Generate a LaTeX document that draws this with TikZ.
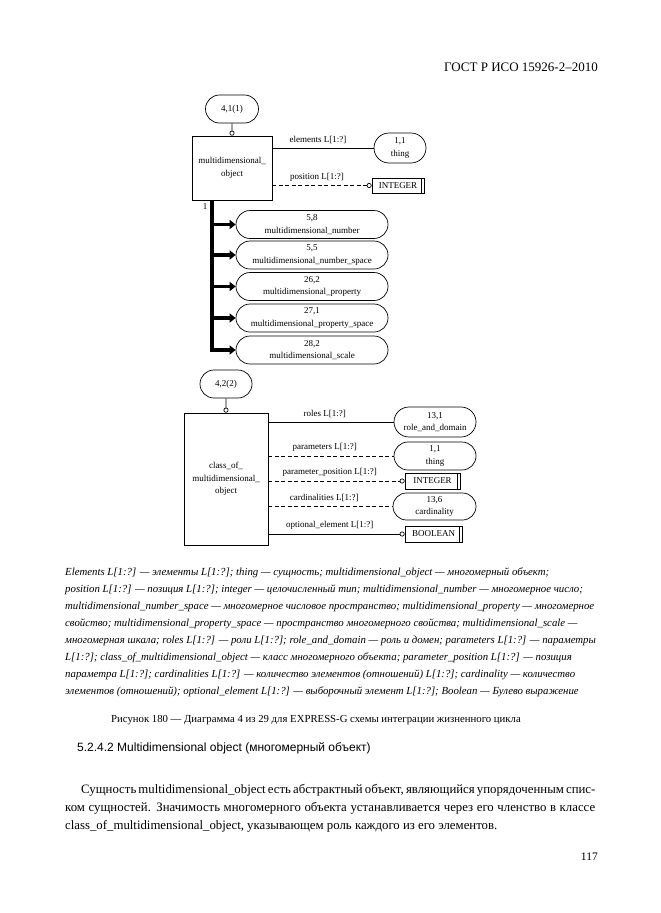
\documentclass[tikz,border=0pt]{standalone}
\usepackage{fontspec}
\setmainfont{Liberation Serif}
\newfontfamily\headfont{Liberation Sans}
\usetikzlibrary{shapes,arrows.meta,positioning}
\newcommand{\dgfont}{\fontsize{9}{12.5}\selectfont}
\newcommand{\hdrfont}{\fontsize{13}{15}\selectfont}
\newcommand{\lgfont}{\fontsize{10.8}{17}\selectfont\itshape}
\newcommand{\capfont}{\fontsize{10.75}{13}\selectfont}
\newcommand{\secfont}{\headfont\fontsize{12}{14}\selectfont}
\newcommand{\txtfont}{\fontsize{12.8}{18}\selectfont}

\begin{document}
\begin{tikzpicture}[x=1pt,y=-1pt]
    %styles
    \tikzstyle{entity}=[rectangle,draw,line width=0.7pt,align=center,font=\dgfont,inner sep=1pt]
    \tikzstyle{refoval}=[rounded rectangle,draw,line width=0.7pt,align=center,font=\dgfont,inner sep=1pt]
    \tikzstyle{typebox}=[rectangle,draw,line width=0.7pt,font=\dgfont,inner sep=1pt,
        path picture={\draw[line width=0.7pt] ([xshift=-3pt]path picture bounding box.north east) -- ([xshift=-3pt]path picture bounding box.south east);}]
    \tikzstyle{attr}=[line width=0.7pt]
    \tikzstyle{optattr}=[line width=0.7pt,dash pattern=on 4pt off 2.5pt]
    \tikzstyle{circtip}=[-{Circle[open,length=5pt]}]
    \tikzstyle{lbl}=[font=\dgfont,above=3pt,pos=0.45,inner sep=1pt]
    \tikzstyle{supline}=[line width=4pt]
    \tikzstyle{subarr}=[line width=3.5pt,-{Triangle[length=6pt,width=9pt]}]
    \tikzstyle{plain}=[anchor=west,inner sep=0pt]
    \useasboundingbox (0,0) rectangle (661,913);

    %page head
    \node[anchor=east,inner sep=0pt,font=\hdrfont] (hdr) at (598,67) {ГОСТ Р ИСО 15926-2–2010};

    %diagram 4, part 1
    \node[refoval,minimum width=55,minimum height=28] (ref41) at (232,109) {4,1(1)};
    \node[entity,minimum width=80,minimum height=64] (mdo) at (232,168) {multidimensional\_\\object};
    \node[refoval,minimum width=54,minimum height=30] (thing1) at (400,148) {1,1\\thing};
    \node[typebox,minimum width=52,minimum height=15] (int1) at (398,185.5) {INTEGER};
    \node[font=\dgfont,inner sep=0pt] (one) at (205,207) {1};
    \node[refoval,minimum width=154,minimum height=28] (num) at (312,224.5) {5,8\\multidimensional\_number};
    \node[refoval,minimum width=154,minimum height=28] (numsp) at (312,255) {5,5\\multidimensional\_number\_space};
    \node[refoval,minimum width=154,minimum height=28] (prop) at (312,286.5) {26,2\\multidimensional\_property};
    \node[refoval,minimum width=154,minimum height=28] (propsp) at (312,318) {27,1\\multidimensional\_property\_space};
    \node[refoval,minimum width=154,minimum height=28] (scale) at (312,350) {28,2\\multidimensional\_scale};
    \coordinate (trunk) at (212,352);

    %diagram 4, part 2
    \node[refoval,minimum width=54,minimum height=28] (ref42) at (226,384) {4,2(2)};
    \node[entity,minimum width=84,minimum height=132] (cmo) at (226,479) {class\_of\_\\multidimensional\_\\object};
    \node[refoval,minimum width=84,minimum height=30] (rad) at (435,422) {13,1\\role\_and\_domain};
    \node[refoval,minimum width=84,minimum height=28] (thing2) at (435,456) {1,1\\thing};
    \node[typebox,minimum width=55,minimum height=16] (int2) at (432.5,481) {INTEGER};
    \node[refoval,minimum width=85,minimum height=27] (card) at (434.5,506.5) {13,6\\cardinality};
    \node[typebox,minimum width=57,minimum height=16] (bool) at (433.5,534) {BOOLEAN};

    %arrows
    \draw[attr,circtip] (ref41)--(mdo);
    \draw[attr] (mdo.east |- thing1)-- node[lbl] {elements L[1:?]} (thing1);
    \draw[optattr,circtip] (mdo.east |- int1)-- node[lbl] {position L[1:?]} (int1);
    \draw[supline] (mdo.south -| trunk)--(trunk);
    \draw[subarr] (num.west -| trunk)--(num);
    \draw[subarr] (numsp.west -| trunk)--(numsp);
    \draw[subarr] (prop.west -| trunk)--(prop);
    \draw[subarr] (propsp.west -| trunk)--(propsp);
    \draw[subarr] (scale.west -| trunk)--(scale);
    \draw[attr,circtip] (ref42)--(cmo);
    \draw[attr] (cmo.east |- rad)-- node[lbl] {roles L[1:?]} (rad);
    \draw[optattr] (cmo.east |- thing2)-- node[lbl] {parameters L[1:?]} (thing2);
    \draw[optattr,circtip] (cmo.east |- int2)-- node[lbl] {parameter\_position L[1:?]} (int2);
    \draw[optattr] (cmo.east |- card)-- node[lbl] {cardinalities L[1:?]} (card);
    \draw[attr,circtip] (cmo.east |- bool)-- node[lbl] {optional\_element L[1:?]} (bool);

    %legend
    \node[plain,font=\lgfont] (lg1) at (65,573) {Elements L[1:?] — элементы L[1:?]; thing — сущность; multidimensional\_object — многомерный объект;};
    \node[plain,font=\lgfont] (lg2) at (65,590) {position L[1:?] — позиция L[1:?]; integer — целочисленный тип; multidimensional\_number — многомерное число;};
    \node[plain,font=\lgfont] (lg3) at (65,607) {multidimensional\_number\_space — многомерное числовое пространство; multidimensional\_property — многомерное};
    \node[plain,font=\lgfont] (lg4) at (65,624) {свойство; multidimensional\_property\_space — пространство многомерного свойства; multidimensional\_scale —};
    \node[plain,font=\lgfont] (lg5) at (65,641) {многомерная шкала; roles L[1:?] — роли L[1:?]; role\_and\_domain — роль и домен; parameters L[1:?] — параметры};
    \node[plain,font=\lgfont] (lg6) at (65,658) {L[1:?]; class\_of\_multidimensional\_object — класс многомерного объекта; parameter\_position L[1:?] — позиция};
    \node[plain,font=\lgfont] (lg7) at (65,675) {параметра L[1:?]; cardinalities L[1:?] — количество элементов (отношений) L[1:?]; cardinality — количество};
    \node[plain,font=\lgfont] (lg8) at (65,692) {элементов (отношений); optional\_element L[1:?] — выборочный элемент L[1:?]; Boolean — Булево выражение};

    %caption and text
    \node[inner sep=0pt,font=\capfont] (cap) at (316,720) {Рисунок 180 — Диаграмма 4 из 29 для EXPRESS-G схемы интеграции жизненного цикла};
    \node[plain,font=\secfont] (sec) at (77,748) {5.2.4.2 Multidimensional object (многомерный объект)};
    \node[plain,font=\txtfont] (par1) at (81,790) {\makebox[514pt][s]{Сущность multidimensional\_object есть абстрактный объект, являющийся упорядоченным спис-}};
    \node[plain,font=\txtfont] (par2) at (65,808) {\makebox[530pt][s]{ком сущностей. Значимость многомерного объекта устанавливается через его членство в классе}};
    \node[plain,font=\txtfont] (par3) at (65,826) {class\_of\_multidimensional\_object, указывающем роль каждого из его элементов.};
    \node[anchor=east,inner sep=0pt,font=\fontsize{11.5}{13}\selectfont] (pg) at (598,857) {117};
\end{tikzpicture}
\end{document}
